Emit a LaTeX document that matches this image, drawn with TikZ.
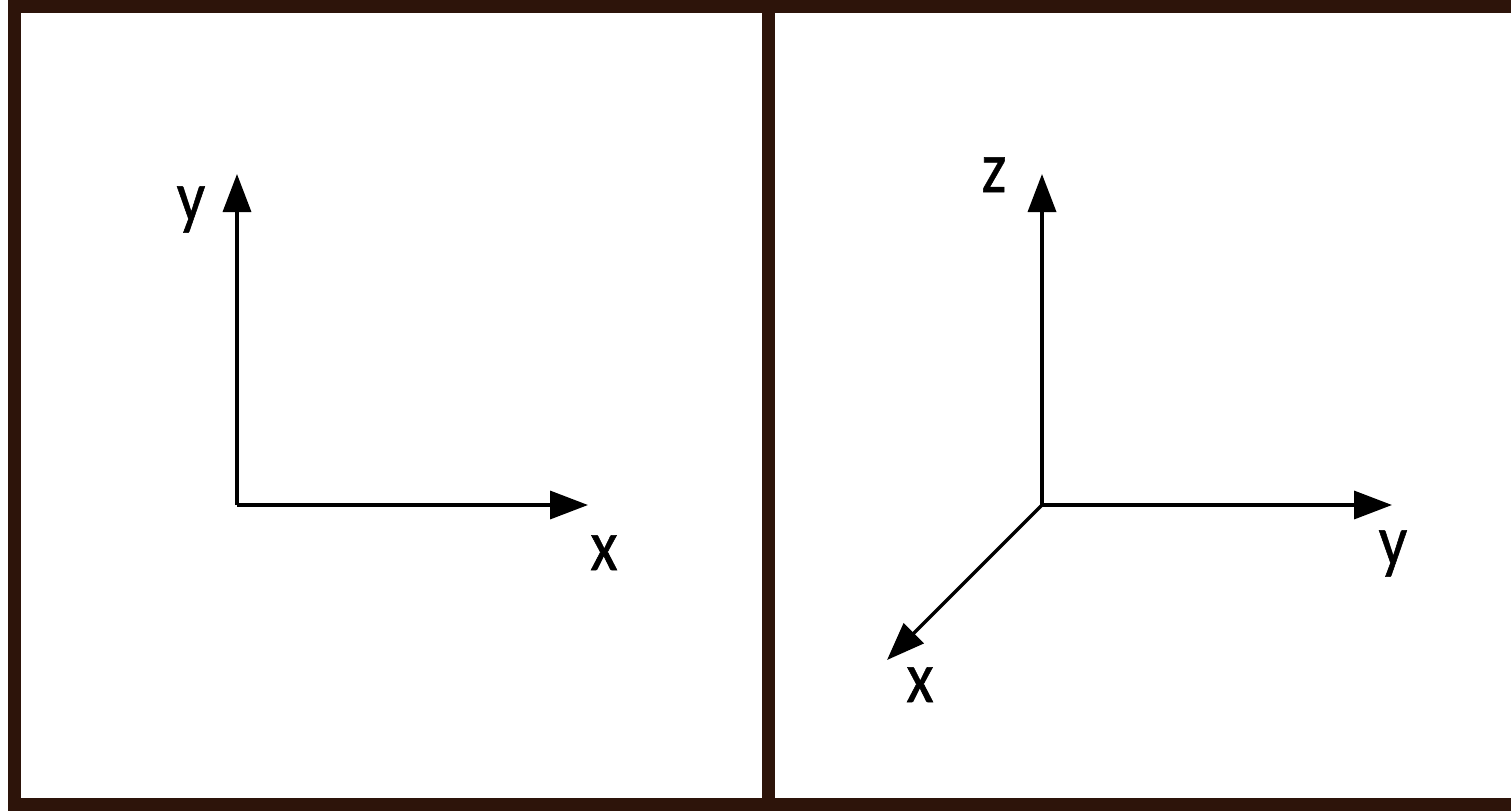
\documentclass[tikz,border=0pt]{standalone}
\usepackage{fontspec}
\setmainfont{Carlito}
\newfontfamily\axfont{Carlito}[FakeBold=0.8]
\usetikzlibrary{arrows.meta}
\definecolor{frame}{RGB}{45,20,10}
\tikzset{
  framebar/.style={draw=frame, line width=13pt},
  axis/.style={line width=3.5pt, -{Triangle[length=38pt,width=28pt]}},
  axlabel/.style={anchor=base, inner sep=0pt, font=\axfont\fontsize{63}{63}\selectfont}
}
\newcommand{\tallaxis}[1]{\scalebox{1}[1.15]{#1}}
\begin{document}
\begin{tikzpicture}[x=1pt,y=-1pt]
\useasboundingbox (0,0) rectangle (1511,811);
\clip (0,0) rectangle (1511,811);
\fill[white] (0,0) rectangle (1511,811);
% frame
\draw[framebar] (14,6) rectangle (1530,804);
\draw[framebar] (768,6) -- (768,804);
% left panel
\coordinate (o1) at (237,505);
\coordinate (y1) at (237,174);
\coordinate (x1) at (588,505);
\draw[axis] (o1) -- (y1);
\draw[axis] (o1) -- (x1);
\node[axlabel] (ly1) at (191,221) {\tallaxis{y}};
\node[axlabel] (lx1) at (604,570) {\tallaxis{x}};
% right panel
\coordinate (o2) at (1042,505);
\coordinate (z2) at (1042,174);
\coordinate (y2) at (1392,505);
\coordinate (x2) at (887,660);
\draw[axis] (o2) -- (z2);
\draw[axis] (o2) -- (y2);
\draw[axis] (o2) -- (x2);
\node[axlabel] (lz2) at (994,192) {\tallaxis{z}};
\node[axlabel] (ly2) at (1393,565) {\tallaxis{y}};
\node[axlabel] (lx2) at (920,702) {\tallaxis{x}};
\end{tikzpicture}
\end{document}
